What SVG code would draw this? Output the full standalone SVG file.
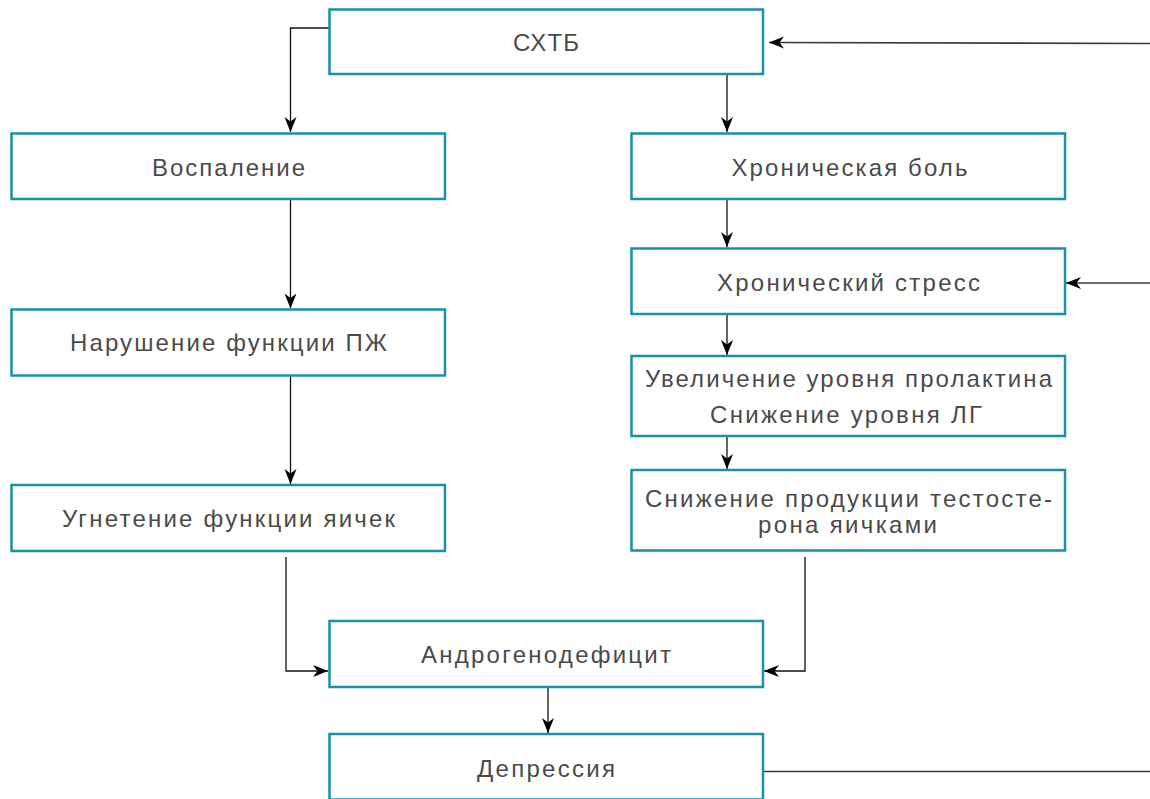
<svg xmlns="http://www.w3.org/2000/svg" width="1150" height="799" viewBox="0 0 1150 799">
<defs>
<style>
.box{fill:#ffffff;stroke:#1592a7;stroke-width:2.5}
.t{font-family:"Liberation Sans",Arial,sans-serif;font-size:24px;fill:#4a4a4a;text-anchor:middle}
.c{fill:none;stroke:#111111;stroke-width:1.3}
.g{fill:none;stroke:#3a3a3a;stroke-width:1.6}
</style>
<marker id="ah" markerUnits="userSpaceOnUse" markerWidth="17" markerHeight="13" refX="15" refY="6" orient="auto">
<path d="M0,0 L15,6 L0,12 L4.5,6 z" fill="#000000"/>
</marker>
</defs>
<rect width="1150" height="799" fill="#ffffff"/>
<g id="connectors">
<path class="c" d="M329,28 H290.5 V132" marker-end="url(#ah)"/>
<path class="c" d="M727,74 V132" marker-end="url(#ah)"/>
<path class="c" d="M727,199 V247" marker-end="url(#ah)"/>
<path class="c" d="M727,314 V355" marker-end="url(#ah)"/>
<path class="c" d="M727,436 V469" marker-end="url(#ah)"/>
<path class="c" d="M290.5,199 V308.5" marker-end="url(#ah)"/>
<path class="c" d="M290.5,375.5 V484" marker-end="url(#ah)"/>
<path class="c" d="M286,557 V671 H328" marker-end="url(#ah)"/>
<path class="c" d="M805,557 V671 H764" marker-end="url(#ah)"/>
<path class="c" d="M548,687 V733" marker-end="url(#ah)"/>
<path class="g" d="M1150,43.5 L769,42.5" marker-end="url(#ah)"/>
<path class="g" d="M1150,283 H1066" marker-end="url(#ah)"/>
<path class="g" d="M763,771.5 H1150"/>
</g>
<g id="n-schtb">
<rect class="box" x="329.5" y="9.5" width="433.5" height="64.5"/>
<text class="t" x="546" y="50.5" textLength="66" lengthAdjust="spacing">СХТБ</text>
</g>
<g id="n-vospalenie">
<rect class="box" x="11.5" y="133.5" width="433.5" height="65.5"/>
<text class="t" x="228.5" y="176" textLength="153" lengthAdjust="spacing">Воспаление</text>
</g>
<g id="n-bol">
<rect class="box" x="631.5" y="133.5" width="433.5" height="65.5"/>
<text class="t" x="849.5" y="176" textLength="236" lengthAdjust="spacing">Хроническая боль</text>
</g>
<g id="n-stress">
<rect class="box" x="631.5" y="248.5" width="433.5" height="65.5"/>
<text class="t" x="848.5" y="290.5" textLength="263" lengthAdjust="spacing">Хронический стресс</text>
</g>
<g id="n-pzh">
<rect class="box" x="11.5" y="309.5" width="433.5" height="66"/>
<text class="t" x="228.5" y="351" textLength="317" lengthAdjust="spacing">Нарушение функции ПЖ</text>
</g>
<g id="n-prolaktin">
<rect class="box" x="631.5" y="356" width="433.5" height="80"/>
<text class="t" x="848.5" y="386.7" textLength="407" lengthAdjust="spacing">Увеличение уровня пролактина</text>
<text class="t" x="846" y="423.3" textLength="272" lengthAdjust="spacing">Снижение уровня ЛГ</text>
</g>
<g id="n-testosteron">
<rect class="box" x="631.5" y="470" width="433.5" height="80.5"/>
<text class="t" x="848.5" y="506.7" textLength="407" lengthAdjust="spacing">Снижение продукции тестосте-</text>
<text class="t" x="847.5" y="533.3" textLength="179" lengthAdjust="spacing">рона яичками</text>
</g>
<g id="n-yaichki">
<rect class="box" x="11.5" y="485" width="433.5" height="66"/>
<text class="t" x="228.5" y="526.5" textLength="333" lengthAdjust="spacing">Угнетение функции яичек</text>
</g>
<g id="n-androgen">
<rect class="box" x="329.5" y="621" width="433.5" height="66"/>
<text class="t" x="546" y="663" textLength="250" lengthAdjust="spacing">Андрогенодефицит</text>
</g>
<g id="n-depressiya">
<rect class="box" x="329.5" y="734" width="433.5" height="65.5"/>
<text class="t" x="546" y="777" textLength="138" lengthAdjust="spacing">Депрессия</text>
</g>
</svg>
